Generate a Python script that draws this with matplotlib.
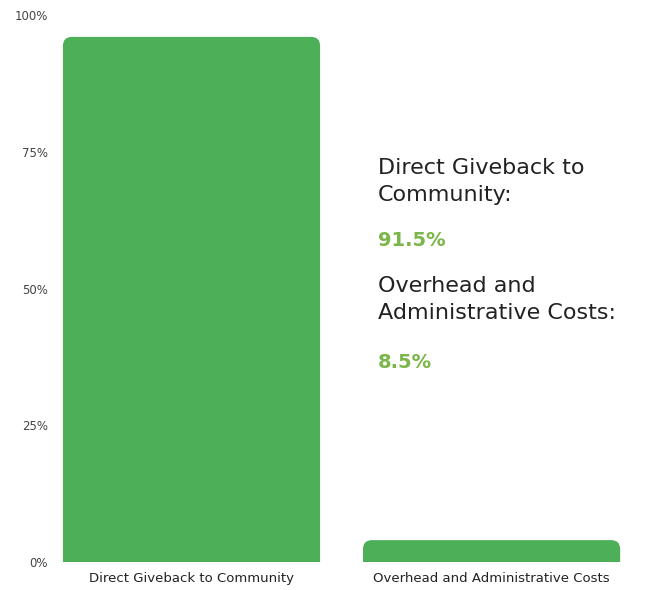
import matplotlib
matplotlib.use("Agg")
import matplotlib.pyplot as plt
from matplotlib.patches import FancyBboxPatch

# values as drawn (bar heights in %)
categories = ["Direct Giveback to Community", "Overhead and Administrative Costs"]
values = [96, 4]
yticks = [0, 25, 50, 75, 100]
ytick_labels = ["0%", "25%", "50%", "75%", "100%"]
summary_labels = ["Direct Giveback to\nCommunity:", "Overhead and\nAdministrative Costs:"]
summary_values = ["91.5%", "8.5%"]

bar_color = "#4daf57"
pct_color = "#7ab648"
text_color = "#222222"

plt.rcParams['font.family'] = ['DejaVu Sans']

W, H = 669, 590
fig = plt.figure(figsize=(W / 100, H / 100), dpi=100)
ax = fig.add_axes([55 / W, 28 / H, (635 - 55) / W, (562 - 15) / H])

x = list(range(len(categories)))
width = 0.857
bars = ax.bar(x, values, width=width, color=bar_color)

# swap plain bars for ones with rounded tops (bottom is clipped at 0)
ax.set_xlim(-0.455, 1.478)
ax.set_ylim(0, 100)
fig.canvas.draw()
px_per_x = ax.transData.transform((1, 0))[0] - ax.transData.transform((0, 0))[0]
px_per_y = ax.transData.transform((0, 1))[1] - ax.transData.transform((0, 0))[1]
r = 0.03
for b in bars:
    b.set_visible(False)
    x0, w, h = b.get_x(), b.get_width(), b.get_height()
    patch = FancyBboxPatch((x0 + r, -3), w - 2 * r, h + 3 - r * px_per_x / px_per_y,
                           boxstyle="round,pad=%f" % r,
                           mutation_aspect=px_per_x / px_per_y,
                           facecolor=bar_color, edgecolor="none")
    ax.add_patch(patch)

ax.set_yticks(yticks)
ax.set_yticklabels(ytick_labels, fontsize=8.5, color="#444444")
ax.set_xticks(x)
ax.set_xticklabels(categories, fontsize=9.5, color=text_color)
ax.tick_params(length=0, axis='y', pad=5)
ax.tick_params(length=0, axis='x', pad=7)
for s in ax.spines.values():
    s.set_visible(False)

# summary text on the right
ys = [(158, 241), (276, 362)]
for lab, val, (yl, yv) in zip(summary_labels, summary_values, ys):
    fig.text(378 / W, 1 - yl / H, lab, fontsize=16, color=text_color,
             va="top", ha="left", linespacing=1.42)
    fig.text(378 / W, 1 - yv / H, val, fontsize=14, color=pct_color,
             fontweight="bold", va="center", ha="left")

fig.savefig("out.png", dpi=100)
